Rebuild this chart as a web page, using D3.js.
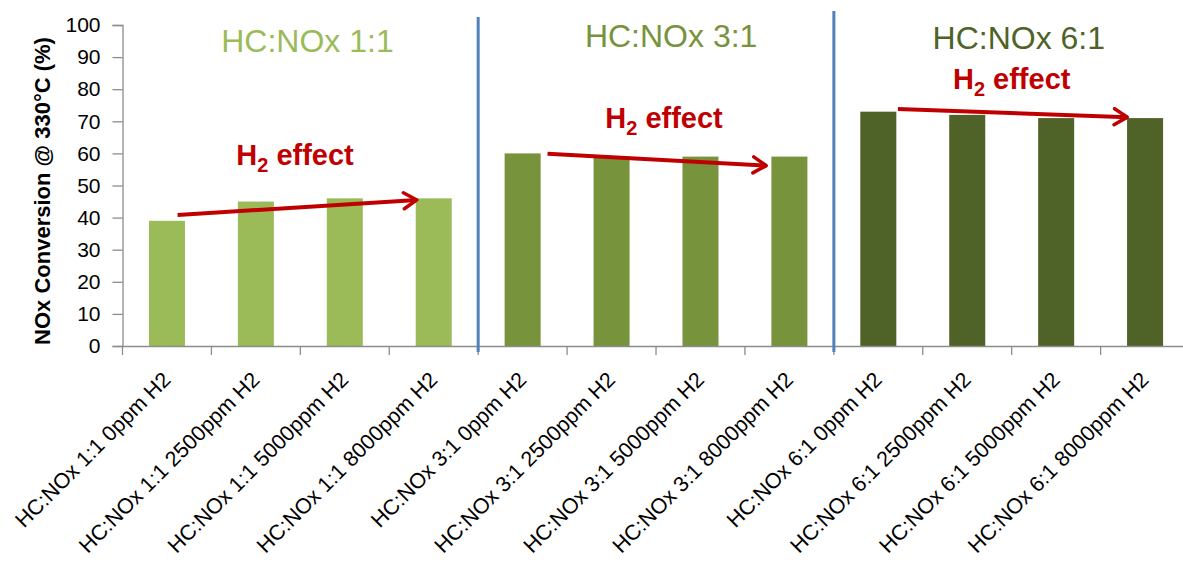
<!DOCTYPE html>
<html>
<head>
<meta charset="utf-8">
<script src="https://cdn.jsdelivr.net/npm/d3@7"></script>
<style>
  html, body { margin: 0; padding: 0; background: #fff; }
  svg { display: block; }
</style>
</head>
<body>
<svg id="chart" width="1183" height="563"></svg>
<script>
// ---------- data ----------
const categories = [
  "HC:NOx 1:1 0ppm H2", "HC:NOx 1:1 2500ppm H2", "HC:NOx 1:1 5000ppm H2", "HC:NOx 1:1 8000ppm H2",
  "HC:NOx 3:1 0ppm H2", "HC:NOx 3:1 2500ppm H2", "HC:NOx 3:1 5000ppm H2", "HC:NOx 3:1 8000ppm H2",
  "HC:NOx 6:1 0ppm H2", "HC:NOx 6:1 2500ppm H2", "HC:NOx 6:1 5000ppm H2", "HC:NOx 6:1 8000ppm H2"
];
const values = [39, 45, 46, 46, 60, 59, 59, 59, 73, 72, 71, 71];
const groupOf = [0, 0, 0, 0, 1, 1, 1, 1, 2, 2, 2, 2];
const groupNames = ["HC:NOx 1:1", "HC:NOx 3:1", "HC:NOx 6:1"];
const yTicks = [0, 10, 20, 30, 40, 50, 60, 70, 80, 90, 100];
const yTitle = "NOx Conversion @ 330°C (%)";
// H2-effect arrows: start/end in category-slot units and values
const arrowFrom = [[0.62, 40.8], [4.78, 59.9], [8.72, 73.8]];
const arrowTo   = [[3.31, 45.5], [7.24, 56.2], [11.30, 71.3]];
// group divider positions (slot index boundaries)
const dividers = [4, 8];

// ---------- styles / layout ----------
const groupColors = ["#9BBB59", "#77933C", "#4F6228"];
const axisColor = "#8C8C8C";
const x0 = 122.5, slot = 88.92;
const svg = d3.select("#chart");

const x = d3.scaleBand().domain(categories).range([x0, x0 + slot * categories.length]).padding(0);
const xs = d3.scaleLinear().domain([0, categories.length]).range([x0, x0 + slot * categories.length]);
const y = d3.scaleLinear().domain([0, 100]).range([346, 25]);

// bars
const barW = x.bandwidth() * 0.405;
svg.append("g").selectAll("rect").data(values).join("rect")
  .attr("x", (d, i) => x(categories[i]) + x.bandwidth() / 2 - barW / 2)
  .attr("y", d => y(d))
  .attr("width", barW)
  .attr("height", d => y(0) - y(d) + 0.5)
  .attr("fill", (d, i) => groupColors[groupOf[i]]);

// y axis
const yAxis = d3.axisLeft(y).tickValues(yTicks).tickSize(10).tickPadding(12).tickFormat(d3.format("d"));
const gy = svg.append("g").attr("transform", `translate(${x0},0)`).call(yAxis);
gy.select(".domain").attr("stroke", axisColor).attr("stroke-width", 1.3);
gy.selectAll(".tick line").attr("stroke", axisColor).attr("stroke-width", 1.3);
gy.selectAll(".tick text").attr("fill", "#000")
  .style("font-family", "'Liberation Sans', Arial, sans-serif").style("font-size", "21px");

// x axis
const xAxis = d3.axisBottom(x).tickSize(0).tickFormat("");
const gx = svg.append("g").attr("transform", `translate(0,${y(0)})`).call(xAxis);
gx.select(".domain").attr("stroke", axisColor).attr("stroke-width", 1.3);
// boundary ticks
gx.selectAll("line.bnd").data(d3.range(0, categories.length + 1)).join("line")
  .attr("class", "bnd")
  .attr("x1", d => xs(d)).attr("x2", d => xs(d))
  .attr("y1", 0).attr("y2", 9)
  .attr("stroke", axisColor).attr("stroke-width", 1.3);

// x labels
svg.append("g").selectAll("text").data(categories).join("text")
  .attr("transform", d => `translate(${x(d) + x.bandwidth() / 2 + 5},381) rotate(-45)`)
  .attr("text-anchor", "end")
  .style("font-family", "'Liberation Sans', Arial, sans-serif")
  .style("font-size", "21.5px")
  .attr("fill", "#000")
  .text(d => d);

// y title
svg.append("text")
  .attr("transform", "translate(50,191) rotate(-90)")
  .attr("text-anchor", "middle")
  .style("font-family", "'Liberation Sans', Arial, sans-serif")
  .style("font-size", "22px")
  .style("font-weight", "bold")
  .attr("fill", "#000")
  .text(yTitle);

// dividers
const divTop = [17, 11];
svg.append("g").selectAll("line").data(dividers).join("line")
  .attr("x1", d => xs(d)).attr("x2", d => xs(d))
  .attr("y1", (d, i) => divTop[i]).attr("y2", 352)
  .attr("stroke", "#4F81BD").attr("stroke-width", 3);

// group titles
const titleX = [2.08, 6.17, 10.08];
const titleY = [52, 47, 49];
svg.append("g").selectAll("text").data(groupNames).join("text")
  .attr("x", (d, i) => xs(titleX[i]))
  .attr("y", (d, i) => titleY[i])
  .attr("text-anchor", "middle")
  .style("font-family", "'Liberation Sans', Arial, sans-serif")
  .style("font-size", "32px")
  .attr("fill", (d, i) => groupColors[i])
  .text(d => d);

// arrows
const red = "#C00000";
svg.append("defs").append("marker")
  .attr("id", "head").attr("markerUnits", "userSpaceOnUse")
  .attr("viewBox", "0 0 20 20").attr("refX", 16).attr("refY", 10)
  .attr("markerWidth", 20).attr("markerHeight", 20).attr("orient", "auto")
  .append("path").attr("d", "M3,2 L16,10 L3,18")
  .attr("fill", "none").attr("stroke", red).attr("stroke-width", 3.5)
  .attr("stroke-linecap", "round").attr("stroke-linejoin", "round");
svg.append("g").selectAll("line").data(arrowFrom).join("line")
  .attr("x1", d => xs(d[0])).attr("y1", d => y(d[1]))
  .attr("x2", (d, i) => xs(arrowTo[i][0])).attr("y2", (d, i) => y(arrowTo[i][1]))
  .attr("stroke", red).attr("stroke-width", 4)
  .attr("marker-end", "url(#head)");

// H2 effect labels
const h2X = [1.94, 6.09, 10.0];
const h2Y = [165, 128, 89];
const h2 = svg.append("g").selectAll("text").data(h2X).join("text")
  .attr("x", d => xs(d))
  .attr("y", (d, i) => h2Y[i])
  .attr("text-anchor", "middle")
  .style("font-family", "'Liberation Sans', Arial, sans-serif")
  .style("font-size", "29px")
  .style("font-weight", "bold")
  .attr("fill", red);
h2.append("tspan").text("H");
h2.append("tspan").attr("dy", 7).style("font-size", "20px").text("2");
h2.append("tspan").attr("dy", -7).text(" effect");
</script>
</body>
</html>
